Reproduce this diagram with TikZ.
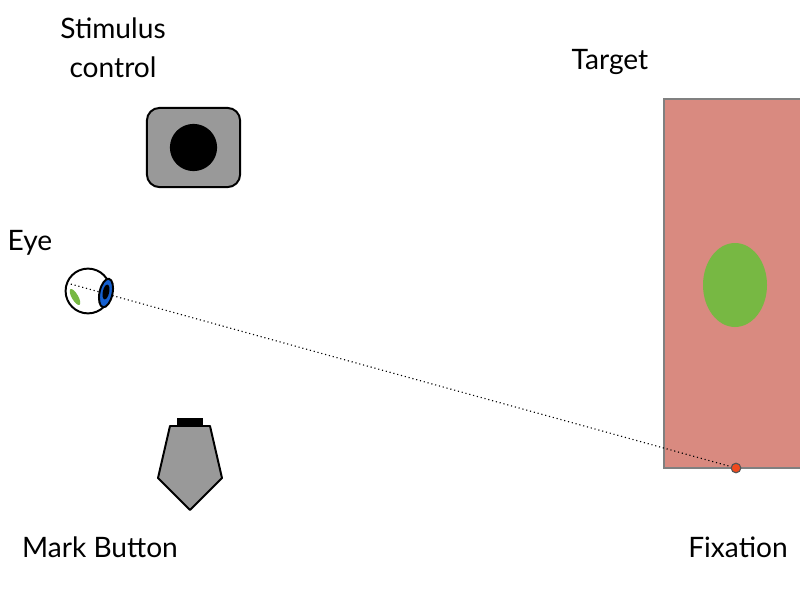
\documentclass[tikz,border=0pt]{standalone}
\usepackage{fontspec}
\setmainfont{Lato}
\usepackage{tikz}
\usetikzlibrary{positioning,calc}
\definecolor{Panel}{HTML}{999999}
\definecolor{Rim}{HTML}{808080}
\definecolor{TargetFill}{HTML}{D98A80}
\definecolor{Blob}{HTML}{77B843}
\definecolor{Iris}{HTML}{1560D0}
\definecolor{FixDot}{HTML}{F04A1E}
\definecolor{FixRim}{HTML}{555555}

\begin{document}
\begin{tikzpicture}[x=0.025cm,y=-0.025cm,
	label/.style={font=\fontsize{20}{28}\selectfont,align=center,inner sep=0pt}]
			
			\useasboundingbox (0,0) rectangle (800,592);
			
			% ---------------------------------------------------------
			% TEXTS
			% ---------------------------------------------------------
			
			\node[label] (stimtext) at (113,48) {Stimulus\\control};
			\node[label] (targettext) at (610,62) {Target};
			\node[label] (eyetext) at (30,243) {Eye};
			\node[label] (marktext) at (100,547) {Mark Button};
			\node[label] (fixtext) at (738,547) {Fixation};
			
			% ---------------------------------------------------------
			% STIMULUS CONTROL
			% ---------------------------------------------------------
			
			\node[
			draw=black,
			fill=Panel,
			line width=1.4pt,
			rounded corners=9pt,
			minimum width=2.33cm,
			minimum height=1.98cm
			]
			(stim) at (193.5,147.5) {};
			
			\node[
			circle,
			fill=black,
			inner sep=0pt,
			minimum size=1.18cm
			]
			(stimdot) at (stim.center) {};
			
			% ---------------------------------------------------------
			% TARGET
			% ---------------------------------------------------------
			
			\draw[draw=Rim,fill=TargetFill,line width=1.4pt]
			(664,99) rectangle (815,468);
			
			\fill[Blob] (735,285) ellipse [x radius=32, y radius=42];
			
			\node[
			circle,
			draw=FixRim,
			fill=FixDot,
			line width=0.8pt,
			inner sep=0pt,
			minimum size=0.24cm
			]
			(fix) at (736,468) {};
			
			% ---------------------------------------------------------
			% EYE
			% ---------------------------------------------------------
			
			\node[
			circle,
			draw=black,
			fill=white,
			line width=1.4pt,
			inner sep=0pt,
			minimum size=1.12cm
			]
			(eye) at (88,291) {};
			
			\fill[Blob,rotate around={30:(75,297)}]
			(75,297) ellipse [x radius=3.2, y radius=9];
			
			\coordinate (gaze) at (67,283);
			
			\draw[dotted,line width=0.8pt]
			(gaze) -- (fix);
			
			\draw[fill=Iris,line width=1.4pt,rotate around={-12:(106,293)}]
			(106,293) ellipse [x radius=6.5, y radius=14.5];
			\fill[black,rotate around={-12:(106,292)}]
			(106,292) ellipse [x radius=3.2, y radius=7.5];
			
			% ---------------------------------------------------------
			% MARK BUTTON
			% ---------------------------------------------------------
			
			\fill (177,418) rectangle (203,427);
			
			\draw[fill=Panel,line width=1.4pt,line join=round]
			(170,426) -- (210,426) -- (222,478) -- (190,510) -- (158,478) -- cycle;
			
		\end{tikzpicture}
\end{document}
